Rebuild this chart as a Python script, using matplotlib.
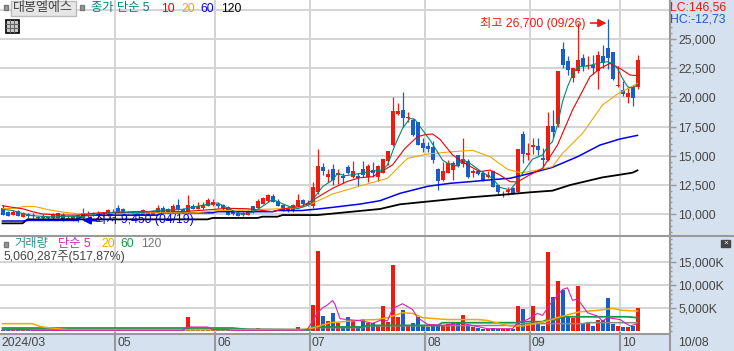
import numpy as np
import matplotlib
matplotlib.use("Agg")
import matplotlib.pyplot as plt
from matplotlib.lines import Line2D
from matplotlib.patches import Rectangle
from matplotlib.ticker import FixedLocator, MultipleLocator
from matplotlib.transforms import ScaledTranslation

plt.rcParams['font.family'] = ['Liberation Sans', 'Noto Sans CJK KR', 'DejaVu Sans']

W, H = 734, 351

# daily candles, 128 sessions
opens = [10500, 10150, 9900, 10250, 9750, 10000, 9950, 9750, 9650, 9700,
         9650, 9700, 9950, 9600, 9450, 9900, 9700, 9900, 10100, 9900,
         9900, 9900, 10100, 10500, 10400, 10050, 10100, 10100, 9950, 9950,
         9900, 10050, 10500, 10400, 10200, 10750, 10400, 10150, 10650, 10450,
         10500, 10700, 10750, 10900, 10750, 10600, 10200, 10100, 9950, 9950,
         10650, 10550, 10900, 11100, 11550, 11150, 10750, 10500, 10250, 10650,
         11200, 10950, 10650, 11900, 14050, 13150, 13850, 13350, 13300, 14050,
         13200, 13300, 13900, 13200, 13750, 13200, 13550, 14550, 15950, 18550,
         18900, 18250, 18050, 17850, 16050, 15850, 15770, 13900, 12900, 13550,
         13750, 15050, 14300, 14550, 13550, 13700, 13500, 13200, 13650, 12450,
         11650, 11900, 12250, 11900, 16900, 15050, 15750, 15850, 14800, 14650,
         17550, 17750, 24150, 23100, 21700, 22250, 23400, 22650, 22750, 22300,
         23550, 24200, 23850, 20950, 20650, 20050, 20850, 20850]
highs = [10750, 10300, 10350, 10350, 10200, 10050, 10050, 9850, 10000, 9750,
         10050, 10100, 10050, 9850, 9900, 9950, 10500, 10250, 10150, 10250,
         10200, 10450, 10400, 10750, 10500, 10300, 10150, 10200, 10400, 10250,
         10350, 10750, 10650, 10500, 10850, 11250, 10500, 11650, 10850, 11000,
         11000, 11350, 11250, 11050, 10850, 10650, 10300, 10300, 10200, 10350,
         10700, 11250, 11450, 11700, 11700, 11250, 10900, 10650, 10900, 11750,
         11250, 11200, 12750, 15550, 14350, 13850, 14250, 13850, 13500, 14200,
         14550, 13550, 14550, 14250, 14450, 14200, 14700, 15400, 20000, 19550,
         20450, 18750, 18200, 17900, 16500, 16200, 16250, 13950, 14500, 14650,
         14550, 15100, 16500, 14750, 13900, 13900, 13650, 13650, 13700, 12500,
         12000, 12350, 12350, 15550, 17100, 16050, 16500, 16500, 15700, 18750,
         18950, 22250, 24750, 23550, 22550, 26350, 23700, 23550, 23650, 23950,
         24500, 26700, 23900, 22650, 21400, 20850, 21100, 23650]
lows = [9900, 9850, 9900, 9850, 9750, 9700, 9650, 9500, 9500, 9500,
        9550, 9650, 9400, 9450, 9400, 9350, 9450, 9750, 9850, 9500,
        9750, 9850, 10050, 10050, 10050, 10000, 9900, 9900, 9900, 9900,
        9900, 10000, 10100, 10050, 10100, 10350, 10050, 10000, 10400, 10400,
        10400, 10650, 10700, 10500, 10350, 9900, 9900, 9850, 9850, 9900,
        10100, 10500, 10850, 11050, 11000, 10650, 10250, 10200, 10200, 10550,
        10750, 10700, 10500, 11750, 13350, 12750, 12500, 12550, 12650, 13400,
        13050, 12400, 13150, 12750, 13200, 12800, 13500, 14200, 15850, 18500,
        17500, 17900, 16700, 15900, 15350, 15350, 14350, 12100, 12850, 13500,
        12900, 14050, 14050, 13050, 13150, 13350, 12850, 13050, 12300, 11700,
        11500, 11650, 11700, 11850, 14350, 14650, 15150, 15050, 14000, 14550,
        16500, 17500, 22550, 21900, 21350, 22100, 22300, 22400, 22000, 20750,
        22500, 22400, 21500, 20850, 20100, 19550, 19250, 20750]
closes = [9900, 9850, 10200, 9850, 10050, 9850, 9850, 9650, 9850, 9650,
          9900, 10050, 9450, 9700, 9850, 9450, 10050, 10000, 9900, 10000,
          10050, 10350, 10200, 10100, 10100, 10200, 10000, 9900, 10350, 10200,
          10200, 10550, 10100, 10100, 10700, 10400, 10100, 10750, 10450, 10650,
          10800, 11200, 11050, 10650, 10550, 9950, 10000, 9850, 10050, 10250,
          10200, 11100, 11350, 11650, 11050, 10700, 10350, 10300, 10750, 11200,
          10850, 10750, 12350, 14100, 13700, 13450, 12900, 13500, 13100, 13550,
          13700, 13050, 13350, 14150, 13500, 14100, 14700, 15400, 18800, 18800,
          18200, 18350, 16750, 15950, 15650, 15550, 14650, 12850, 13700, 14400,
          14400, 14100, 14750, 13150, 13700, 13450, 12950, 13350, 12350, 11850,
          11750, 12100, 11750, 15550, 15150, 15250, 15900, 15450, 14650, 17550,
          17050, 22250, 22750, 22350, 22500, 23200, 22700, 22750, 22500, 23650,
          22950, 23350, 21550, 21050, 20300, 20350, 19950, 23200]

# volume in thousands of shares
volume = [200, 250, 200, 250, 200, 200, 250, 150, 200, 150,
          200, 200, 300, 200, 200, 200, 300, 200, 200, 150,
          200, 200, 200, 200, 150, 150, 200, 200, 200, 200,
          200, 200, 200, 200, 200, 200, 200, 3100, 400, 350,
          350, 350, 300, 300, 300, 200, 200, 200, 200, 200,
          200, 700, 250, 200, 200, 200, 200, 200, 200, 950,
          300, 300, 5700, 17500, 3300, 2250, 3840, 1800, 1100, 3100,
          2500, 1200, 2700, 1650, 1800, 1100, 5350, 2000, 14500, 3000,
          4500, 1100, 1650, 3100, 1100, 870, 1200, 1200, 1100, 1450,
          1800, 1800, 3400, 1200, 870, 580, 360, 500, 580, 500,
          500, 500, 500, 5350, 4700, 1800, 5350, 1950, 1100, 17300,
          7500, 10800, 9000, 3100, 2800, 9900, 1500, 1800, 1200, 2500,
          2300, 7300, 1450, 1200, 800, 800, 1100, 5060]

# moving averages at the session numbers given
ma5_x = [0, 2, 4, 6, 8, 10, 13, 16, 19, 23, 27, 31, 36, 40, 43, 46, 48, 50, 52, 54, 57, 59,
         61.5, 62.5, 64, 66, 67, 68.5, 70.5, 74, 76, 77, 78.5, 80, 81.5, 82.5, 84, 85.5,
         88, 89, 91, 92, 93.5, 95.5, 98, 99.5, 101.5, 102.5, 104, 106, 108, 109, 110,
         111, 112, 113, 114, 115, 117, 119, 120, 121, 122, 123, 124, 125, 126, 127]
ma5_y = [10400, 10300, 10050, 9850, 9800, 9750, 9800, 9800, 9950, 10200, 10100, 10300, 10400,
         10750, 10950, 10300, 9950, 10150, 10650, 11250, 10700, 10450,
         10830, 11480, 12340, 12910, 13480, 13280, 13400, 13680, 13770, 14200, 15910, 17340,
         18200, 18100, 17200, 16340, 14630, 14340, 14110, 14680, 14340, 13710, 13060, 12280,
         12060, 12570, 13500, 14700, 15050, 15770, 16200, 17630, 19630, 20910, 21910, 22630,
         22680, 22910, 23000, 23050, 22910, 22480, 21630, 20910, 20770, 21100]
ma10_x = [0, 2, 4, 6, 8, 12, 15, 18, 20, 24, 26, 31, 32, 36, 39, 45, 49, 54, 56, 60, 63,
          66, 69, 71.5, 74, 78, 80.5, 83, 84.5, 86, 87.5, 90, 93, 95.5, 97.5, 99.5, 101.5,
          103, 105, 107.5, 108, 111, 114, 117.5, 119.5, 121.5, 123.5, 125.5, 127]
ma10_y = [10710, 10570, 10450, 10200, 10000, 9910, 9900, 10050, 10110, 10110, 10200, 10200,
          10290, 10200, 10290, 10490, 10450, 10200, 10430, 10690, 11430,
          12200, 12800, 13110, 13200, 14200, 15630, 16630, 16800, 16860, 16400, 15060, 14200,
          13630, 13770, 13340, 12770, 12750, 13250, 13800, 13910, 15910, 18910, 21770, 22480,
          22910, 22480, 21910, 21860]
ma20_x = [0, 2.5, 4.5, 6.5, 9.5, 12.5, 15.5, 20, 25, 31, 38.7, 43, 49, 52, 56, 60, 62, 66,
          71.5, 77, 81, 85, 90, 94, 97.5, 101, 103, 104, 107, 110, 112, 116, 120, 123, 127]
ma20_y = [10460, 10490, 10660, 10630, 10340, 10140, 10000, 10000, 10060, 10110, 10110, 10290,
          10340, 10400, 10460, 10570, 10910, 11710, 12400, 13060, 14770, 15140, 15340, 15460,
          14910, 13830, 13600, 13540, 13770, 14060, 15200, 16910, 19340, 20280, 21200]
ma60_x = [0, 4, 5, 15, 16, 31, 32, 42, 43, 54, 55, 60, 61, 62.5, 66, 71.5, 75.5, 79.5, 85,
          89.5, 93.5, 99.5, 101.5, 105.5, 110, 115, 119.5, 123.5, 127]
ma60_y = [9400, 9400, 9450, 9450, 9900, 9900, 10100, 10100, 10200, 10200, 10300, 10300, 10350,
          10400, 10570, 10850, 11140, 11770, 12370, 12630, 12770, 13000, 13060, 13480, 14000,
          14910, 15910, 16430, 16740]
ma120_x = [0, 4, 5, 41, 42, 51, 52, 55, 56, 63, 75.5, 79.5, 93.5, 99.5, 105.5, 110, 113.5, 120,
           123.5, 126, 127]
ma120_y = [9200, 9200, 9540, 9540, 9660, 9660, 9770, 9770, 9910, 9910, 10430, 10830, 11430,
           11630, 11860, 12000, 12480, 13140, 13370, 13540, 13740]

vol5_x = [0, 5, 6, 36, 37, 41, 42, 45, 46, 60, 61, 62, 63, 64, 65, 65.5, 66, 66.5, 67.5, 72, 74,
          76, 77, 78, 80, 82, 83, 85, 88, 92, 97, 102, 103, 105, 107, 108, 109.5, 112, 113, 114,
          115, 117, 119, 120, 121, 123.5, 125.5, 127]
vol5_y = [290, 290, 150, 150, 870, 870, 300, 300, 150, 200, 400, 2100, 4000, 5000, 5700, 6160,
          6650, 5800, 2680, 2170, 1670, 2500, 2170, 4850, 5940, 4700, 2900, 1450, 1230, 1670,
          500, 500, 1810, 2500, 3840, 3400, 5800, 9060, 9420, 6670, 7030, 3985, 3260, 2170,
          2900, 2500, 1090, 1600]
vol20_x = [0, 6, 7.5, 8.5, 13, 37, 60, 62, 65.5, 72, 75, 77, 80, 82, 84, 89, 95, 97, 101.5,
           104, 109, 111.5, 115.5, 119, 122, 124, 127]
vol20_y = [1600, 1600, 1000, 800, 290, 290, 290, 650, 1800, 2400, 2500, 2900, 3985, 3840, 2900,
           2500, 2500, 2300, 1090, 1090, 2170, 3100, 4200, 4500, 4930, 4500, 4350]
vol60_x = [0, 46, 49.5, 61.5, 62, 72, 73, 87, 88, 103, 104, 108, 109, 111, 112, 125, 127]
vol60_y = [650, 650, 290, 290, 870, 870, 1230, 1230, 1810, 1810, 2030, 2030, 2500, 2500, 3100, 3100, 2900]
vol120_x = [0, 46, 47, 49.5, 61.5, 62, 72, 73, 103, 104, 116, 117, 127]
vol120_y = [290, 290, 430, 430, 290, 725, 725, 1090, 1230, 1600, 1600, 1810, 1810]

month_pos = [-0.5, 22.5, 42.5, 61.5, 84.5, 105.5, 123.5, 133.3]
month_labels = ['2024/03', '05', '06', '07', '08', '09', '10', '10/08']

price_ticks = [10000, 12500, 15000, 17500, 20000, 22500, 25000, 27500]
vol_ticks = [5000, 10000, 15000]

RED = '#ee1b0e'
BLUE = '#1a5cc8'
GRID = '#d4d4d4'
AXIS = '#999999'
BAND = '#d6e1ef'
TXT = '#444444'
FS = 8.8
THIN = 0.8


def px(x, y):
    return x / W, 1 - y / H


opens, highs, lows, closes = map(np.array, (opens, highs, lows, closes))
volume = np.array(volume)
x = np.arange(len(closes))
colors = [RED if c >= o else BLUE for o, c in zip(opens, closes)]

fig = plt.figure(figsize=(W / 100, H / 100), dpi=100, facecolor=BAND)
ax = fig.add_axes([0, (H - 235) / H, 669 / W, 235 / H])
ax2 = fig.add_axes([0, (H - 333) / H, 669 / W, (333 - 236) / H])

# price panel
for g in price_ticks:
    ax.axhline(g, color=GRID, lw=1.4, zorder=0)
for g in month_pos[1:-1]:
    ax.axvline(g, color=GRID, lw=1.4, zorder=0)
ax.vlines(x, lows, highs, colors=colors, lw=0.9, zorder=2)
ax.bar(x, np.maximum(np.abs(closes - opens), 90), bottom=np.minimum(opens, closes),
       width=0.8, color=colors, lw=0, zorder=2)
ax.plot(ma120_x, ma120_y, color='black', lw=1.3, zorder=3)
ax.plot(ma60_x, ma60_y, color='#0000ee', lw=1.1, zorder=3)
ax.plot(ma20_x, ma20_y, color='#f0a800', lw=THIN, zorder=3)
ax.plot(ma10_x, ma10_y, color='#ee0000', lw=THIN, zorder=3)
ax.plot(ma5_x, ma5_y, color='#008878', lw=THIN, zorder=3)
ax.set_xlim(-0.5, 133.3)
ax.set_ylim(8200, 28343)
ax.set_xticks([])
ax.yaxis.tick_right()
ax.yaxis.set_major_locator(FixedLocator(price_ticks[:-1]))
ax.yaxis.set_minor_locator(MultipleLocator(500))
ax.set_yticklabels([f'{t:,}' for t in price_ticks[:-1]])
ax.tick_params(axis='y', which='major', length=5, width=1, color=AXIS, labelsize=FS,
               labelcolor=TXT, pad=1.5)
ax.tick_params(axis='y', which='minor', length=2, width=1, color=AXIS)

# volume panel
for g in vol_ticks:
    ax2.axhline(g, color=GRID, lw=1.4, zorder=0)
for g in month_pos[1:-1]:
    ax2.axvline(g, color=GRID, lw=1.4, zorder=0)
ax2.bar(x, volume, width=0.8, color=colors, lw=0, zorder=2)
ax2.plot(vol120_x, vol120_y, color='#888888', lw=1.1, zorder=3)
ax2.plot(vol60_x, vol60_y, color='#129a4a', lw=1.3, zorder=3)
ax2.plot(vol20_x, vol20_y, color='#f0a800', lw=1.1, zorder=3)
ax2.plot(vol5_x, vol5_y, color='#d81fb4', lw=THIN, zorder=3)
ax2.set_xlim(-0.5, 133.3)
ax2.set_ylim(-435, 20717)
ax2.yaxis.tick_right()
ax2.yaxis.set_major_locator(FixedLocator(vol_ticks))
ax2.yaxis.set_minor_locator(MultipleLocator(1000))
ax2.set_yticklabels([f'{t:,}K' for t in vol_ticks])
ax2.tick_params(axis='y', which='major', length=5, width=1, color=AXIS, labelsize=FS,
                labelcolor=TXT, pad=1.5)
ax2.tick_params(axis='y', which='minor', length=2, width=1, color=AXIS)
ax2.set_xticks(month_pos)
ax2.set_xticklabels(month_labels, ha='left')
ax2.tick_params(axis='x', length=0, labelsize=FS, labelcolor=TXT, pad=3)
for lab, shift in zip(ax2.get_xticklabels(), [1, 2, 2, 2, 2, 2, 2, 9]):
    lab.set_transform(lab.get_transform() + ScaledTranslation(shift / 100, 0, fig.dpi_scale_trans))

for a in (ax, ax2):
    for s in a.spines.values():
        s.set_visible(False)

# separators
sep = dict(color=AXIS, lw=1.5, transform=fig.transFigure)
fig.add_artist(Line2D(*zip(px(0, 235.5), px(W, 235.5)), **sep))
fig.add_artist(Line2D(*zip(px(0, 333.5), px(669, 333.5)), **sep))
fig.add_artist(Line2D(*zip(px(669.5, 0), px(669.5, H)), **sep))
for m in month_pos[1:-1]:
    xf = (m + 0.5) * 5 / W
    fig.add_artist(Line2D([xf, xf], [0, 18 / H], **sep))

# high / low markers
ax.annotate('', xy=(121 - 0.2, 26370), xytext=(-16, 0), textcoords='offset pixels',
            arrowprops=dict(arrowstyle='-|>', color=RED, lw=1.2, mutation_scale=12, shrinkA=0, shrinkB=0))
ax.annotate('', xy=(16, 9450), xytext=(14, 0), textcoords='offset pixels',
            arrowprops=dict(arrowstyle='-|>', color='#0000ee', lw=1.5, mutation_scale=11, shrinkA=0, shrinkB=0))
fig.text(*px(480, 23), '최고 26,700 (09/26)', color=RED, fontsize=FS, va='center', ha='left')
fig.text(*px(95, 219), '최저 9,450 (04/19)', color='#0000ee', fontsize=FS, va='center', ha='left', zorder=5)

# header
fig.text(*px(670, 7), 'LC:146,56', color=RED, fontsize=FS, va='center', ha='left')
fig.text(*px(670, 19), 'HC:-12,73', color=BLUE, fontsize=FS, va='center', ha='left')


def box(x0, y0, w, h, face, edge, lw=1):
    fig.add_artist(Rectangle(px(x0, y0 + h), w / W, h / H, transform=fig.transFigure,
                             facecolor=face, edgecolor=edge, lw=lw, zorder=6))


box(3.5, 5, 4, 5, '#999999', '#777777')
box(79.5, 5, 4, 5, '#999999', '#777777')
box(10.5, 1.5, 65, 14, '#e6e6e6', '#bbbbbb')
fig.text(*px(43, 8.5), '대봉엘에스', color=TXT, fontsize=9.4, va='center', ha='center', zorder=7)

legend1 = [(91, '종가 단순 5', '#008080'), (161, '10', '#ee0000'), (181, '20', '#f0a800'),
           (200, '60', '#0000ee'), (221, '120', 'black')]
for lx, s, c in legend1:
    fig.text(*px(lx, 8.5), s, color=c, fontsize=FS, va='center', ha='left')

# table icon
box(5.5, 19.5, 13, 13, '#cccccc', 'black', lw=1.2)
for k in (9.5, 13.5):
    fig.add_artist(Line2D(*zip(px(k, 20), px(k, 32)), color='#666666', lw=0.8, transform=fig.transFigure, zorder=7))
for k in (23.5, 27.5):
    fig.add_artist(Line2D(*zip(px(6, k), px(18, k)), color='#666666', lw=0.8, transform=fig.transFigure, zorder=7))

box(3.5, 241.5, 4, 5, '#999999', '#777777')
legend2 = [(14, '거래량', '#2f8f8f'), (58, '단순 5', '#d81fb4'), (101, '20', '#f0a800'),
           (120, '60', '#129a4a'), (141, '120', '#777777')]
for lx, s, c in legend2:
    fig.text(*px(lx, 244), s, color=c, fontsize=FS, va='center', ha='left')
fig.text(*px(4, 257), '5,060,287주(517,87%)', color=TXT, fontsize=FS, va='center', ha='left')

box(721, 240, 9, 7, '#444444', '#444444')
fig.text(*px(725.5, 243.3), '×', color='white', fontsize=6, va='center', ha='center', zorder=7)

fig.savefig('out.png', dpi=100, facecolor=BAND)
